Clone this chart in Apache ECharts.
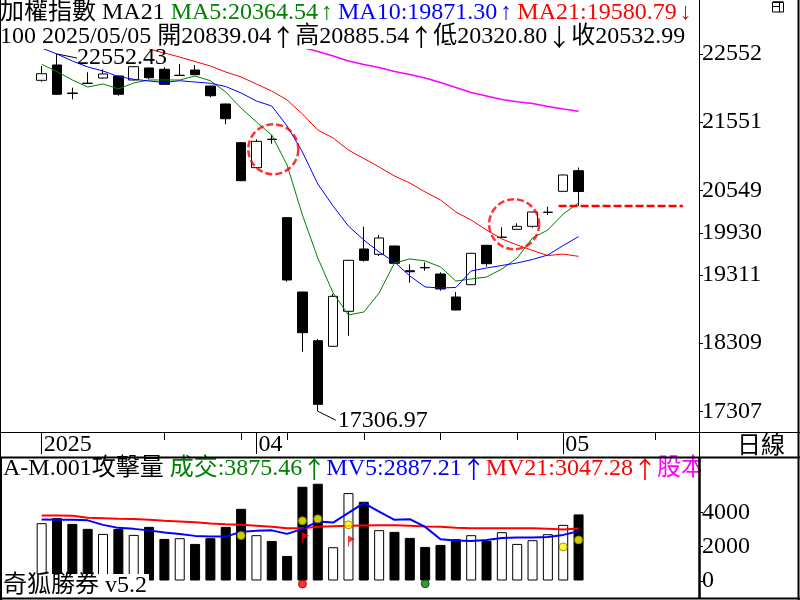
<!DOCTYPE html>
<html><head><meta charset="utf-8">
<script src="https://cdn.jsdelivr.net/npm/echarts@6/dist/echarts.min.js"></script>
<style>html,body{margin:0;padding:0;background:#fff}#c{width:800px;height:600px}</style>
</head><body><div id="c"></div>
<script>
// ---------------- data ----------------
const dates = ['2025/03/12','2025/03/13','2025/03/14','2025/03/17','2025/03/18','2025/03/19','2025/03/20','2025/03/21','2025/03/24','2025/03/25','2025/03/26','2025/03/27','2025/03/28','2025/03/31','2025/04/01','2025/04/02','2025/04/07','2025/04/08','2025/04/09','2025/04/10','2025/04/11','2025/04/14','2025/04/15','2025/04/16','2025/04/17','2025/04/18','2025/04/21','2025/04/22','2025/04/23','2025/04/24','2025/04/25','2025/04/28','2025/04/29','2025/04/30','2025/05/02','2025/05/05'];
const futureDates = ['2025/05/06','2025/05/07','2025/05/08','2025/05/09','2025/05/12','2025/05/13','2025/05/14'];
const open  = [22166,22391,21980,22124,22200,22229,22171,22347,22328,22238,22317,22082,21818,21250,20883,21302,20149,19057,18342,18260,18774,19689,19611,19733,19370,19418,19322,18984,19165,19743,19860,19978,20022,20226,20536,20839.04];
const close = [22263,21961,21972,22120,22259,21961,22366,22204,22107,22240,22248,21940,21602,20692,21270,21298,19234,18460,17408,18994,19523,19523,19851,19479,19355,19412,19102,18793,19626,19473,19862,20022,20232,20230,20776,20532.99];
const low   = [22146,21950,21887,22118,22185,21940,22165,22185,22100,22236,22245,21917,21520,20685,20878,21235,19209,18181,17306.97,18255,18416,19503,19586,19472,19194,19370,19077,18790,19160,19429,19858,19975,20001,20188,20530,20320.80];
const high  = [22376,22552.43,22058,22284,22328,22240,22375,22350,22357,22406,22391,22090,21825,21258,21300,21363,20152,19062,18367,19028,19530,20017,19895,19738,19464,19494,19347,19058,19632,19750,20008,20066,20238,20310,20780,20885.54];
const ma5   = [22401,22295,22171,22068,22112,22039,22127,22171,22171,22171,22229,22160,21994,21759,21554,21363,20922,20188,19557,19043,18720,18764,19043,19484,19543,19514,19425,19219,19249,19278,19395,19557,19851,19968,20203,20364.54];
const ma10  = [22640,22552,22450,22362,22303,22222,22181,22156,22134,22160,22141,22122,22075,21980,21862,21789,21495,21113,20644,20320,20026,19821,19645,19498,19293,19131,19117,19124,19366,19410,19447,19484,19535,19601,19740,19871.30];
const ma21  = [null,null,null,null,null,null,null,22625,22567,22508,22442,22376,22288,22215,22112,22009,21877,21671,21436,21319,21142,21018,20893,20761,20658,20526,20409,20232,20115,19968,19836,19748,19667,19593,19615,19580.79];
const maLong = [null,null,null,null,null,null,null,null,null,null,null,null,null,null,null,null,null,22648,22589,22523,22450,22398,22354,22295,22251,22200,22134,22060,21987,21936,21884,21852,21826,21781,21745,21711];
const volume = [3363,3657,3322,3028,2734,3028,2675,3146,2440,2481,2146,2481,3146,4204,2658,2322,1441,5498,5674,1952,5127,4616,2952,2852,2499,1970,2087,2422,2658,2322,2834,2146,2364,2716,3263,3875.46];
const mv5  = [3575,3557,3557,3528,3263,3087,3028,2940,2822,2734,2617,2575,2575,2852,2911,2940,2734,3028,3457,3399,3969,4539,4045,3557,3599,3146,2423,2340,2323,2381,2499,2517,2517,2558,2675,2887.21];
const mv21 = [3810,3810,3793,3675,3646,3616,3600,3557,3500,3457,3410,3350,3293,3263,3205,3146,3058,3058,3146,3175,3205,3222,3234,3234,3205,3163,3146,3087,3069,3058,3058,3058,3058,3028,2987,3047.28];
const priceTickLabels = [22552,21551,20549,19930,19311,18309,17307];
const volTickLabels = [0,2000,4000];
const yellowDots = [[13,2634],[17,3499],[18,3616],[20,3263],[34,1970],[35,2381]];
const redFlags = [[17,2528],[20,2322]];
const redDots = [[17,-205]];
const greenDots = [[25,-188]];
const circleMarks = [[15.1,21154],[30.8,20053]];
const supportSpan = [33.7,41.8];

// ---------------- helpers ----------------
const FONT = "'Liberation Serif','Noto Sans CJK TC',serif";
const CJK = "'Noto Sans CJK TC',sans-serif";
const allDates = dates.concat(futureDates);
const n = dates.length - 1;
const f2 = v => Number(v).toFixed(2);
const arw = (a, b) => a >= b ? '↑' : '↓';

const labelText = {};
allDates.forEach((d, i) => {
  const [y, m] = d.split('/');
  if (i === 0) labelText[i] = y;
  else if (allDates[i - 1].split('/')[1] !== m) labelText[i] = m;
});
const labelIdx = Object.keys(labelText).map(Number);
const shortTick = allDates.map((d, i) => {
  if (labelText[i] !== undefined) return false;
  if (new Date(d).getDay() !== 1) return false;
  let L = -1; labelIdx.forEach(k => { if (k <= i) L = k; });
  if (L >= 0 && i - L <= Math.floor(labelText[L].length * 0.8)) return false;
  return true;
});

const chart = echarts.init(document.getElementById('c'), null, {renderer: 'canvas'});

const candleData = dates.map((d, i) => [open[i], close[i], low[i], high[i]]);
const volData = volume.map((v, i) => ({value: v, itemStyle: {color: close[i] >= open[i] ? '#fff' : '#000'}}));

const option = {
  animation: false,
  backgroundColor: '#fff',
  grid: [
    {left: 34, top: 0, width: 659.6, height: 432},
    {left: 34, top: 457, width: 659.6, height: 141}
  ],
  xAxis: [
    {type: 'category', gridIndex: 0, data: allDates, position: 'bottom', boundaryGap: true,
     axisLine: {show: false}, axisLabel: {show: false}, splitLine: {show: false},
     axisTick: {show: true, alignWithLabel: true, length: 8, interval: (i) => shortTick[i], lineStyle: {color: '#000', width: 1}}},
    {type: 'category', gridIndex: 0, data: allDates, position: 'bottom', boundaryGap: true,
     axisLine: {show: false}, splitLine: {show: false},
     axisTick: {show: true, alignWithLabel: true, length: 22, interval: (i) => labelText[i] !== undefined, lineStyle: {color: '#000', width: 1}},
     axisLabel: {show: true, interval: (i) => labelText[i] !== undefined, formatter: (v, i) => labelText[i] || '',
       align: 'left', margin: 1, padding: [0, 0, 0, 2], fontSize: 24, fontFamily: FONT, color: '#000'}},
    {type: 'value', gridIndex: 0, min: -0.5, max: 42.5, show: false, position: 'top'},
    {type: 'category', gridIndex: 1, data: allDates, boundaryGap: true, show: false}
  ],
  yAxis: [
    {type: 'value', gridIndex: 0, position: 'right', offset: 5.5, min: 17001.7, max: 23345.4,
     splitLine: {show: false}, axisLine: {show: false}, axisTick: {show: false},
     axisLabel: {customValues: priceTickLabels, formatter: v => String(Math.round(v)), margin: 3, fontSize: 24, fontFamily: FONT, color: '#000'}},
    {type: 'value', gridIndex: 1, position: 'right', offset: 5.5, min: -1026, max: 7243,
     splitLine: {show: false}, axisLine: {show: false}, axisTick: {show: false},
     axisLabel: {customValues: volTickLabels, formatter: v => String(Math.round(v)), margin: 3, fontSize: 24, fontFamily: FONT, color: '#000'}}
  ],
  series: [
    {type: 'candlestick', xAxisIndex: 0, yAxisIndex: 0, data: candleData, barWidth: 10, z: 2,
     itemStyle: {color: '#fff', color0: '#000', borderColor: '#000', borderColor0: '#000', borderColorDoji: '#000', borderWidth: 1}},
    {type: 'line', xAxisIndex: 0, yAxisIndex: 0, data: ma5, showSymbol: false, symbol: 'none', z: 3, lineStyle: {color: '#008000', width: 1}},
    {type: 'line', xAxisIndex: 0, yAxisIndex: 0, data: ma10, showSymbol: false, symbol: 'none', z: 3, lineStyle: {color: '#0000ff', width: 1}},
    {type: 'line', xAxisIndex: 0, yAxisIndex: 0, data: ma21, showSymbol: false, symbol: 'none', z: 3, lineStyle: {color: '#ff0000', width: 1}},
    {type: 'line', xAxisIndex: 0, yAxisIndex: 0, data: maLong, showSymbol: false, symbol: 'none', z: 3, lineStyle: {color: '#ff00ff', width: 1.5}},
    {type: 'line', xAxisIndex: 2, yAxisIndex: 0, data: supportSpan.map(x => [x, low[n]]), symbol: 'none', z: 4,
     lineStyle: {color: '#ff0000', width: 2.5, type: [8, 3]}},
    {type: 'scatter', xAxisIndex: 2, yAxisIndex: 0, data: circleMarks, symbol: 'circle', symbolSize: 50, z: 4,
     itemStyle: {color: 'rgba(0,0,0,0)', borderColor: '#ff0000', borderWidth: 2.5, borderType: [7, 3]}},
    {type: 'bar', xAxisIndex: 3, yAxisIndex: 1, data: volData, barWidth: 10, z: 2,
     itemStyle: {borderColor: '#000', borderWidth: 1}},
    {type: 'line', xAxisIndex: 3, yAxisIndex: 1, data: mv21, symbol: 'none', z: 3, lineStyle: {color: '#ff0000', width: 2}},
    {type: 'line', xAxisIndex: 3, yAxisIndex: 1, data: mv5, symbol: 'none', z: 3, lineStyle: {color: '#0000ff', width: 2}},
    {type: 'scatter', xAxisIndex: 3, yAxisIndex: 1, data: yellowDots, symbol: 'circle', symbolSize: 8, z: 5,
     itemStyle: {color: '#ffff00', borderColor: '#808000', borderWidth: 1}},
    {type: 'scatter', xAxisIndex: 3, yAxisIndex: 1, data: redFlags, symbol: 'path://M0,0L7,3.5L1,7L1,11L0,11Z', symbolSize: [7, 11], symbolOffset: [3, 0], z: 5,
     itemStyle: {color: '#ff0000'}},
    {type: 'scatter', xAxisIndex: 3, yAxisIndex: 1, data: redDots, symbol: 'circle', symbolSize: 8, z: 5,
     itemStyle: {color: '#ff0000', borderColor: '#800000', borderWidth: 1}},
    {type: 'scatter', xAxisIndex: 3, yAxisIndex: 1, data: greenDots, symbol: 'circle', symbolSize: 8, z: 5,
     itemStyle: {color: '#008000', borderColor: '#004000', borderWidth: 1}}
  ]
};
chart.setOption(option);

// ---------------- texts and frame ----------------
const prevClose = close[n - 1];
const line1 = `{k|加權指數 MA21 }{g|MA5:${f2(ma5[n])}}{gn|${arw(ma5[n], ma5[n-1])}}{b|MA10:${f2(ma10[n])}}{bn|${arw(ma10[n], ma10[n-1])}}{r|MA21:${f2(ma21[n])}}{rn|${arw(ma21[n], ma21[n-1])}}`;
const line2 = `{k|100 ${dates[n]} 開${f2(open[n])}}{ka|${arw(open[n], prevClose)}}{k|高${f2(high[n])}}{ka|${arw(high[n], prevClose)}}{k|低${f2(low[n])}}{ka|${arw(low[n], prevClose)}}{k|收${f2(close[n])}}`;
const line3 = `{k|A-M.001攻擊量 }{g|成交:${f2(volume[n])}}{ga|${arw(volume[n], volume[n-1])}}{b|MV5:${f2(mv5[n])}}{ba|${arw(mv5[n], mv5[n-1])}}{r|MV21:${f2(mv21[n])}}{ra|${arw(mv21[n], mv21[n-1])}}{m|股本}`;
const NARROW = "'Liberation Serif',serif";
const AP = [0, 5, 0, 3];
const rich = {
  k: {fill: '#000', fontSize: 24, fontFamily: FONT},
  ka: {fill: '#000', fontSize: 24, fontFamily: CJK},
  g: {fill: '#008000', fontSize: 24, fontFamily: FONT},
  ga: {fill: '#008000', fontSize: 24, fontFamily: CJK},
  gn: {fill: '#008000', fontSize: 24, fontFamily: NARROW, padding: AP},
  b: {fill: '#0000ff', fontSize: 24, fontFamily: FONT},
  ba: {fill: '#0000ff', fontSize: 24, fontFamily: CJK},
  bn: {fill: '#0000ff', fontSize: 24, fontFamily: NARROW, padding: AP},
  r: {fill: '#ff0000', fontSize: 24, fontFamily: FONT},
  ra: {fill: '#ff0000', fontSize: 24, fontFamily: CJK},
  rn: {fill: '#ff0000', fontSize: 24, fontFamily: NARROW, padding: AP},
  m: {fill: '#ff00ff', fontSize: 24, fontFamily: FONT}
};

let hiIdx = 0, loIdx = 0;
high.forEach((v, i) => { if (v > high[hiIdx]) hiIdx = i; });
low.forEach((v, i) => { if (v < low[loIdx]) loIdx = i; });
const pHi = chart.convertToPixel({seriesIndex: 0}, [hiIdx, high[hiIdx]]);
const pLo = chart.convertToPixel({seriesIndex: 0}, [loIdx, low[loIdx]]);

const ln = (x1, y1, x2, y2, w) => ({type: 'line', z: 100, shape: {x1, y1, x2, y2}, style: {stroke: '#000', lineWidth: w}});
const tickLines = [];
priceTickLabels.forEach(v => { const y = Math.round(chart.convertToPixel({yAxisIndex: 0}, v)) + 0.5; tickLines.push(ln(699.5, y, 703, y, 1)); });
volTickLabels.forEach(v => { const y = Math.round(chart.convertToPixel({yAxisIndex: 1}, v)) + 0.5; tickLines.push(ln(699.5, y, 703, y, 1)); });

chart.setOption({
  graphic: [
    {type: 'text', x: 0, y: 12.5, z: 50, style: {text: line1, rich, fontSize: 24, fontFamily: FONT, verticalAlign: 'middle', backgroundColor: '#fff'}},
    {type: 'text', x: 0, y: 37, z: 50, style: {text: line2, rich, fontSize: 24, fontFamily: FONT, verticalAlign: 'middle', backgroundColor: '#fff'}},
    {type: 'text', x: 3, y: 469, z: 50, style: {text: line3, rich, fontSize: 24, fontFamily: FONT, verticalAlign: 'middle'}},
    {type: 'text', x: 1, y: 586, z: 50, style: {text: '奇狐勝券 v5.2', fontSize: 24, fontFamily: FONT, fill: '#000', verticalAlign: 'middle', backgroundColor: '#fff', padding: [0, 2, 0, 2]}},
    {type: 'rect', z: 60, shape: {x: 700, y: 0, width: 97, height: 41}, style: {fill: '#fff'}},
    {type: 'rect', z: 60, shape: {x: 701, y: 459, width: 96, height: 28}, style: {fill: '#fff'}},
    {type: 'text', x: 737, y: 444, z: 60, style: {text: '日線', fontSize: 24, fontFamily: CJK, fill: '#000', verticalAlign: 'middle'}},
    {type: 'rect', z: 70, shape: {x: 772.5, y: 2.5, width: 11, height: 9.5}, style: {fill: '#fff', stroke: '#000', lineWidth: 1}},
    ln(779.5, 2.5, 779.5, 12, 1), ln(772.5, 6.5, 779.5, 6.5, 1), ln(772.5, 2, 783.5, 2, 1.5),
    {type: 'polyline', z: 40, shape: {points: [[pHi[0], pHi[1]], [pHi[0] + 20, pHi[1] + 4]]}, style: {stroke: '#000', lineWidth: 1}},
    {type: 'text', x: pHi[0] + 20, y: pHi[1] + 4, z: 40, style: {text: f2(high[hiIdx]), fontSize: 24, fontFamily: FONT, fill: '#000', verticalAlign: 'middle'}},
    {type: 'polyline', z: 40, shape: {points: [[pLo[0], pLo[1]], [pLo[0] + 18, pLo[1] + 9]]}, style: {stroke: '#000', lineWidth: 1}},
    {type: 'text', x: pLo[0] + 20, y: pLo[1] + 9, z: 40, style: {text: f2(low[loIdx]), fontSize: 24, fontFamily: FONT, fill: '#000', verticalAlign: 'middle'}},
    ...tickLines,
    ln(0.5, 0, 0.5, 457, 1), ln(1, 457, 1, 600, 2),
    ln(798.5, 0, 798.5, 600, 2), ln(0, 598.5, 800, 598.5, 2),
    ln(699.5, 0, 699.5, 457, 1), ln(699.5, 457, 699.5, 599, 2.5),
    ln(0, 432.5, 800, 432.5, 1), ln(0, 457.5, 800, 457.5, 2)
  ]
});
</script></body></html>
